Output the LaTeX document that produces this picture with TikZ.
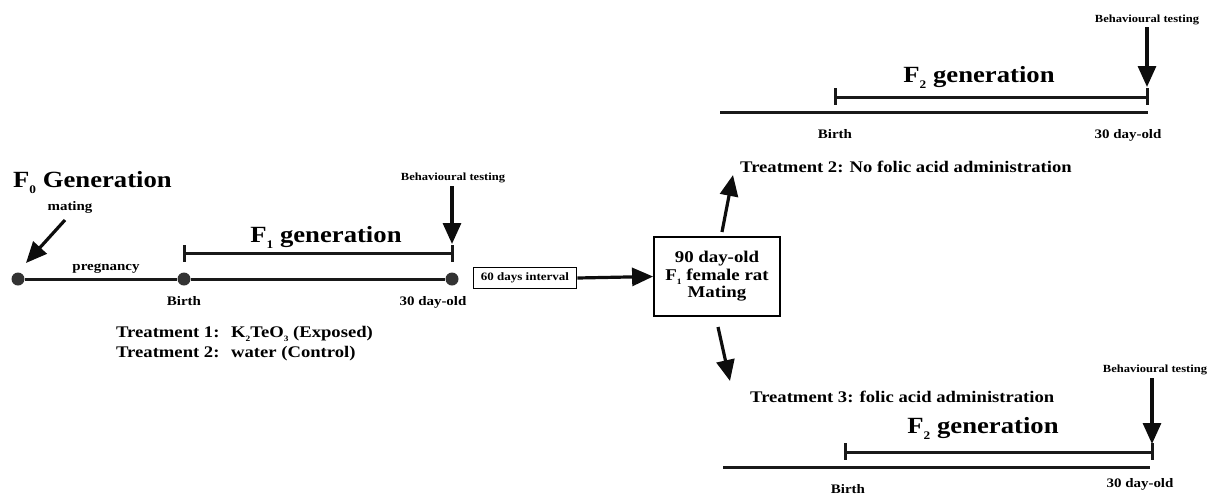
\documentclass[tikz,border=0pt]{standalone}
\usepackage{fontspec}
\setmainfont[FakeStretch=1.15]{Liberation Serif}
\usetikzlibrary{arrows.meta}
\newcommand{\fsz}[1]{\bfseries\fontsize{#1}{#1}\selectfont}
\newcommand{\lowsub}[1]{\raisebox{-0.28em}{\scalebox{0.5}{#1}}}
\begin{document}
\begin{tikzpicture}[x=1pt,y=-1pt,
  line/.style={line width=3pt,color=black!90},
  brk/.style={line width=3pt,color=black!90},
  arr/.style={line width=3.2pt,color=black!95,-{Triangle[length=21pt,width=18pt]}},
  dot/.style={circle,fill=black!80,minimum size=13pt,inner sep=0pt},
  lbl/.style={inner sep=0pt,anchor=base},
  small/.style={lbl,font=\fsz{10.9}},
  mid/.style={lbl,font=\fsz{13}},
  treat/.style={lbl,font=\fsz{16.2}},
  big/.style={lbl,font=\fsz{23.2}},
  boxsty/.style={draw,line width=1.8pt}]
\useasboundingbox (0,0) rectangle (1213,496);
% ---------- left timeline ----------
\node[dot] (d0) at (18,279) {};
\node[dot] (d1) at (184,279) {};
\node[dot] (d2) at (452,279) {};
\draw[line] (d0) -- (d1);
\draw[line] (d1) -- (d2);
\draw[brk] (184,253) -- (452,253);
\draw[brk] (184,245) -- (184,262);
\draw[brk] (452,245) -- (452,262);
\node[big,anchor=base west] (f0) at (13,187) {F\lowsub{0} Generation};
\node[mid] (mating) at (70,210) {mating};
\coordinate (ma) at (65,220);
\coordinate (mb) at (26,263);
\draw[arr] (ma) -- (mb);
\node[mid] (preg) at (106,270) {pregnancy};
\node[big] (f1) at (326,242) {F\lowsub{1} generation};
\node[small] (bt1) at (453,180) {Behavioural testing};
\coordinate (bt1a) at (452,186);
\coordinate (bt1b) at (452,244);
\draw[arr] (bt1a) -- (bt1b);
\node[mid] (birth1) at (184,305) {Birth};
\node[mid] (old1) at (433,305) {30 day-old};
\node[treat,anchor=base west] (t1) at (116,337) {\makebox[115pt][l]{Treatment 1:}K\lowsub{2}TeO\lowsub{3} (Exposed)};
\node[treat,anchor=base west] (t2) at (116,357) {\makebox[115pt][l]{Treatment 2:}water (Control)};
% ---------- interval ----------
\node[boxsty,font=\fsz{11.3},inner sep=3pt,minimum width=103pt,minimum height=21pt] (int) at (525,278) {60 days interval};
\node[boxsty,font=\fsz{16.4},align=center,minimum width=126pt,minimum height=79pt,inner sep=2pt] (mbox) at (717,276.5)
  {90 day-old\\[1pt]F\lowsub{1} female rat\\[1pt]Mating};
\draw[arr] (int.east) -- (mbox.west);
% ---------- top F2 ----------
\coordinate (u0) at (720,112);
\coordinate (u1) at (1148,112);
\draw[line] (u0) -- (u1);
\draw[brk] (835,97) -- (1147,97);
\draw[brk] (835,88) -- (835,105);
\draw[brk] (1147,88) -- (1147,105);
\node[big] (f2a) at (979,82) {F\lowsub{2} generation};
\node[small] (bt2) at (1147,22) {Behavioural testing};
\coordinate (bt2a) at (1147,27);
\coordinate (bt2b) at (1147,87);
\draw[arr] (bt2a) -- (bt2b);
\node[mid] (birth2) at (835,138) {Birth};
\node[mid] (old2) at (1128,138) {30 day-old};
\node[treat,anchor=base west] (t3) at (740,172) {Treatment 2: No folic acid administration};
\coordinate (ua) at (722,232);
\coordinate (ub) at (733,175);
\draw[arr] (ua) -- (ub);
% ---------- bottom F2 ----------
\coordinate (ld) at (718,327);
\coordinate (le) at (730,381);
\draw[arr] (ld) -- (le);
\node[treat,anchor=base west] (t4) at (750,402) {Treatment 3: folic acid administration};
\node[small] (bt3) at (1155,372) {Behavioural testing};
\coordinate (bt3a) at (1152,378);
\coordinate (bt3b) at (1152,444);
\draw[arr] (bt3a) -- (bt3b);
\node[big] (f2b) at (983,433) {F\lowsub{2} generation};
\draw[brk] (845,452) -- (1152,452);
\draw[brk] (845,443) -- (845,460);
\draw[brk] (1152,443) -- (1152,460);
\coordinate (w0) at (723,467);
\coordinate (w1) at (1150,467);
\draw[line] (w0) -- (w1);
\node[mid] (birth3) at (848,493) {Birth};
\node[mid] (old3) at (1140,487) {30 day-old};
\end{tikzpicture}
\end{document}
